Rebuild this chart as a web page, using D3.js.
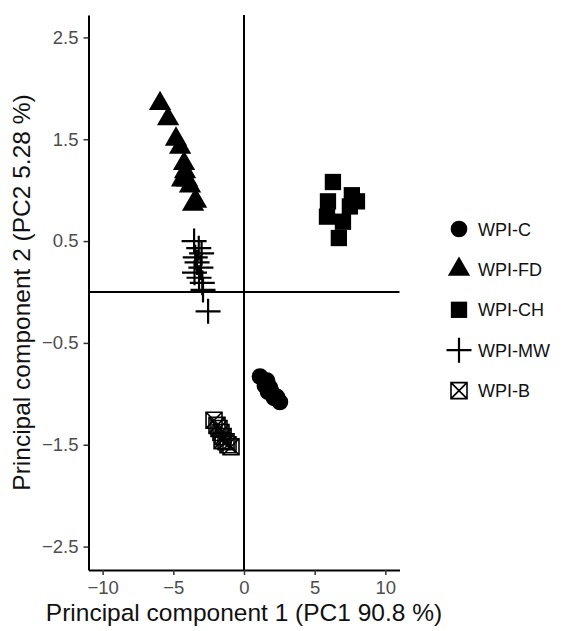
<!DOCTYPE html>
<html><head><meta charset="utf-8">
<script src="https://cdn.jsdelivr.net/npm/d3@7"></script>
<style>body{margin:0;background:#fff}svg{display:block}</style>
</head><body>
<script>
const groups = ["WPI-C","WPI-FD","WPI-CH","WPI-MW","WPI-B"];
const xTicks = [-10,-5,0,5,10];
const yTicks = [2.5,1.5,0.5,-0.5,-1.5,-2.5];
const xLabel = "Principal component 1 (PC1 90.8 %)";
const yLabel = "Principal component 2 (PC2 5.28 %)";

const pcC_x  = [1.13,1.63,1.84,1.98,1.70,2.33,2.54,1.48,2.12];
const pcC_y  = [-0.83,-0.87,-0.94,-0.99,-0.98,-1.03,-1.08,-0.92,-1.04];
const pcFD_x = [-5.94,-5.37,-4.81,-4.52,-4.24,-4.17,-4.38,-4.03,-3.82,-3.39,-3.60];
const pcFD_y = [1.85,1.70,1.50,1.42,1.26,1.18,1.10,1.10,1.04,0.89,0.86];
const pcCH_x = [6.29,7.63,7.99,7.49,5.94,5.87,7.00,6.71];
const pcCH_y = [1.08,0.95,0.89,0.84,0.89,0.74,0.69,0.53];
const pcMW_x = [-3.53,-3.20,-3.00,-3.45,-3.32,-3.05,-3.50,-3.18,-2.95,-2.90,-2.54];
const pcMW_y = [0.50,0.43,0.38,0.34,0.29,0.24,0.19,0.14,0.09,0.02,-0.19];
const pcB_x  = [-2.12,-1.91,-1.77,-1.63,-1.48,-1.55,-1.27,-1.13,-0.92];
const pcB_y  = [-1.26,-1.31,-1.34,-1.38,-1.42,-1.46,-1.47,-1.50,-1.52];

const seriesX = [pcC_x,pcFD_x,pcCH_x,pcMW_x,pcB_x];
const seriesY = [pcC_y,pcFD_y,pcCH_y,pcMW_y,pcB_y];

const W=576,H=631;
const svg=d3.select("body").append("svg").attr("width",W).attr("height",H);
const x=d3.scaleLinear().domain([-11,11]).range([88.5,399.5]);
const y=d3.scaleLinear().domain([-2.73,2.72]).range([570,15]);
const font="Arial, 'Liberation Sans', sans-serif";

svg.append("line").attr("x1",x(0)).attr("x2",x(0)).attr("y1",y.range()[1]).attr("y2",y.range()[0]).attr("stroke","#000").attr("stroke-width",2);
svg.append("line").attr("x1",x.range()[0]).attr("x2",x.range()[1]).attr("y1",y(0)).attr("y2",y(0)).attr("stroke","#000").attr("stroke-width",2);

const gx=svg.append("g").attr("transform",`translate(0,${y.range()[0]})`)
  .call(d3.axisBottom(x).tickValues(xTicks).tickSize(5).tickPadding(6).tickSizeOuter(0));
const gy=svg.append("g").attr("transform",`translate(${x.range()[0]},0)`)
  .call(d3.axisLeft(y).tickValues(yTicks).tickFormat(d3.format(".1f")).tickSize(5).tickPadding(5).tickSizeOuter(0));
[gx,gy].forEach(g=>{
  g.select(".domain").attr("stroke","#000").attr("stroke-width",2);
  g.selectAll(".tick line").attr("stroke","#333").attr("stroke-width",1.5);
  g.selectAll(".tick text").attr("fill","#4d4d4d").style("font-family",font).style("font-size","18.5px");
});

svg.append("text").attr("x",(x.range()[0]+x.range()[1])/2).attr("y",621).attr("text-anchor","middle")
  .style("font-family",font).style("font-size","24.5px").attr("fill","#111").text(xLabel);
svg.append("text").attr("transform",`translate(30,${(y.range()[0]+y.range()[1])/2}) rotate(-90)`).attr("text-anchor","middle")
  .style("font-family",font).style("font-size","24.5px").attr("fill","#111").text(yLabel);

function drawShape(g,i){
  if(i===0) g.append("path").attr("d",d3.symbol(d3.symbolCircle,219)()).attr("fill","#000");
  else if(i===1) g.append("path").attr("d",d3.symbol(d3.symbolTriangle,215)()).attr("fill","#000");
  else if(i===2) g.append("path").attr("d",d3.symbol(d3.symbolSquare,266)()).attr("fill","#000");
  else if(i===3){
    g.append("path").attr("d","M-12.5,0H12.5M0,-12.5V12.5").attr("stroke","#000").attr("stroke-width",2.2).attr("fill","none");
  } else {
    const s=8;
    g.append("path").attr("d",`M${-s},${-s}H${s}V${s}H${-s}ZM${-s},${-s}L${s},${s}M${s},${-s}L${-s},${s}`)
      .attr("stroke","#000").attr("stroke-width",1.6).attr("fill","none");
  }
}

seriesX.forEach((xs,i)=>{
  xs.forEach((v,j)=>{
    const g=svg.append("g").attr("transform",`translate(${x(v)},${y(seriesY[i][j])})`);
    drawShape(g,i);
  });
});

groups.forEach((name,i)=>{
  const cy=229+i*40.4;
  const g=svg.append("g").attr("transform",`translate(459,${cy})`);
  drawShape(g,i);
  svg.append("text").attr("x",478).attr("y",cy+6.5).style("font-family",font).style("font-size","18px").attr("fill","#111").text(name);
});
</script>
</body></html>
